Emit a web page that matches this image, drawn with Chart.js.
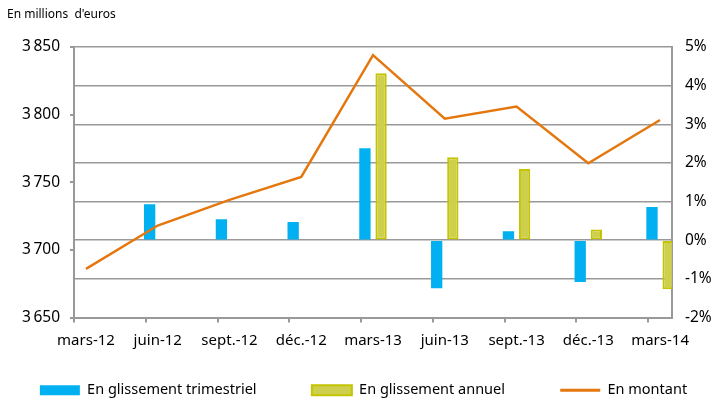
<!DOCTYPE html>
<html lang="fr">
<head>
<meta charset="utf-8">
<style>
  html, body { margin: 0; padding: 0; background: #fff; }
</style>
<script src="https://cdn.jsdelivr.net/npm/chart.js@4/dist/chart.umd.min.js"></script>
</head>
<body>
<canvas id="chart" width="716" height="403"></canvas>
<script>
// Trimestres
const categories = ['mars-12', 'juin-12', 'sept.-12', 'déc.-12', 'mars-13', 'juin-13', 'sept.-13', 'déc.-13', 'mars-14'];
// Glissements en % (axe de droite)
const trimestriel = [null, 0.93, 0.54, 0.47, 2.38, -1.24, 0.23, -1.08, 0.86];
const annuel = [null, null, null, null, 4.32, 2.15, 1.84, 0.28, -1.27];
// Montant en millions d'euros (axe de gauche)
const montant = [3686, 3718, 3737, 3754, 3844, 3797, 3806, 3764, 3796];
// Graduations
const amountTicks = [3650, 3700, 3750, 3800, 3850];
const pctTicks = [-2, -1, 0, 1, 2, 3, 4, 5];

const BLUE = '#00b0f0';
const YELLOW_FILL = '#cfcf4e';
const YELLOW_EDGE = '#c4c400';
const ORANGE = '#e4780f';
const GRID = '#999999';

Chart.defaults.font.family = "'Noto Sans', sans-serif";
Chart.defaults.color = '#000';

// les graduations de l'axe des x tombent un peu avant les points
const xShift = 1 / 6;

const toPoints = arr => arr.map((v, i) => ({ x: i, y: v }));

function formatAmount(v) {
    return Math.floor(v / 1000) + '\u202f' + String(v % 1000).padStart(3, '0');
}

// espace en fin de libellé pour écarter les entrées de la légende
const spread = n => '\u00a0'.repeat(n);
const legendGap = [12, 12, 0];

new Chart(document.getElementById('chart'), {
    data: {
        datasets: [
            {
                type: 'bar',
                label: 'En glissement trimestriel',
                data: toPoints(trimestriel),
                yAxisID: 'yPct',
                backgroundColor: BLUE,
                borderWidth: 0,
                categoryPercentage: 0.45,
                barPercentage: 0.7,
                order: 2
            },
            {
                type: 'bar',
                label: 'En glissement annuel',
                data: toPoints(annuel),
                yAxisID: 'yPct',
                backgroundColor: YELLOW_FILL,
                borderColor: YELLOW_EDGE,
                borderWidth: 2,
                borderSkipped: false,
                categoryPercentage: 0.45,
                barPercentage: 0.7,
                order: 2
            },
            {
                type: 'line',
                label: 'En montant',
                data: toPoints(montant),
                yAxisID: 'y',
                borderColor: ORANGE,
                borderWidth: 2.5,
                pointRadius: 0,
                tension: 0,
                order: 1
            }
        ]
    },
    options: {
        responsive: false,
        animation: false,
        layout: { padding: { left: 7, right: -4, top: 0, bottom: -4.5 } },
        scales: {
            x: {
                type: 'linear',
                offset: false,
                min: -xShift,
                max: categories.length - 1 + xShift,
                afterBuildTicks: s => { s.ticks = categories.map((c, i) => ({ value: i - xShift })); },
                afterFit: s => { s.height = 55.5; },
                ticks: {
                    callback: (v, i) => categories[i],
                    labelOffset: 12,
                    padding: 9,
                    autoSkip: false,
                    maxRotation: 0,
                    font: { size: 15 }
                },
                grid: { offset: false, drawOnChartArea: false, tickLength: 5, color: GRID, lineWidth: 2 },
                border: { color: GRID, width: 2 }
            },
            y: {
                position: 'left',
                min: amountTicks[0],
                max: amountTicks[amountTicks.length - 1],
                afterBuildTicks: s => { s.ticks = amountTicks.map(v => ({ value: v })); },
                afterFit: s => { s.width = 67; },
                ticks: { callback: v => formatAmount(v), padding: 10, font: { size: 15.5 } },
                grid: { drawOnChartArea: false, tickLength: 4, color: GRID, lineWidth: 2 },
                border: { color: GRID, width: 2 }
            },
            yPct: {
                position: 'right',
                min: pctTicks[0],
                max: pctTicks[pctTicks.length - 1],
                afterBuildTicks: s => { s.ticks = pctTicks.map(v => ({ value: v })); },
                afterFit: s => { s.width = 48; },
                ticks: { callback: v => v + '%', padding: 13, font: { size: 15.5 } },
                grid: { drawTicks: false, color: GRID, lineWidth: 1.5 },
                border: { color: GRID, width: 2 }
            }
        },
        plugins: {
            title: {
                display: true,
                text: "En millions  d'euros",
                align: 'start',
                color: '#000',
                font: { size: 12, weight: 'normal' },
                padding: { top: 7, bottom: 25.6 }
            },
            legend: {
                position: 'bottom',
                labels: {
                    usePointStyle: true,
                    pointStyleWidth: 40,
                    boxWidth: 40,
                    boxHeight: 10,
                    padding: 10,
                    font: { size: 14.5 },
                    sort: (a, b) => a.datasetIndex - b.datasetIndex,
                    generateLabels: chart => Chart.defaults.plugins.legend.labels.generateLabels(chart).map(item => {
                        const ds = chart.data.datasets[item.datasetIndex];
                        const isLine = ds.type === 'line';
                        item.text = ds.label + spread(legendGap[item.datasetIndex]);
                        item.pointStyle = isLine ? 'line' : 'rect';
                        item.fillStyle = isLine ? ORANGE : ds.backgroundColor;
                        item.strokeStyle = ds.borderColor || ds.backgroundColor;
                        item.lineWidth = isLine ? 3 : ds.borderWidth;
                        return item;
                    })
                }
            },
            tooltip: { enabled: false }
        }
    }
});
</script>
</body>
</html>
